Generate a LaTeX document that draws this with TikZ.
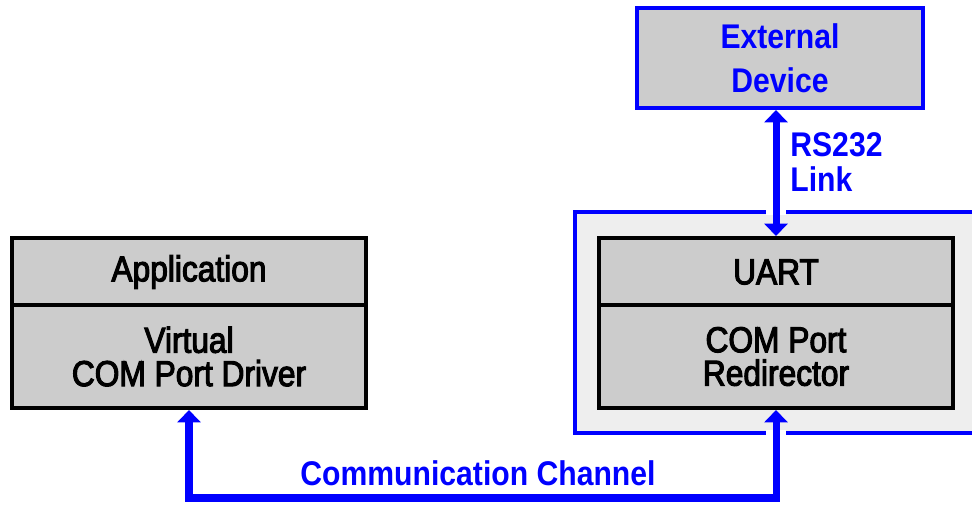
\documentclass[tikz,border=0pt]{standalone}
\usepackage{fontspec}
\setmainfont{Liberation Sans}[FakeStretch=0.88]
\newfontfamily\cellfont{Liberation Sans}[FakeStretch=0.88, FakeBold=3]
\usetikzlibrary{arrows.meta}
\definecolor{linkblue}{RGB}{0,0,255}
\definecolor{cellgray}{RGB}{204,204,204}
\definecolor{framegray}{RGB}{238,238,238}
\def\celltext{\cellfont\fontsize{20.5}{19}\selectfont}
\def\devtext{\fontsize{19.5}{25}\selectfont\bfseries}
\def\linktext{\fontsize{19.5}{20}\selectfont\bfseries}
\tikzset{
  cell/.style={draw=black, line width=2.3pt, fill=cellgray, inner sep=0pt,
    minimum width=7.08cm, align=center, font=\celltext},
  topcell/.style={cell, minimum height=1.36cm},
  lowcell/.style={cell, minimum height=2.06cm},
  devbox/.style={draw=linkblue, line width=2.3pt, fill=cellgray, inner sep=0pt,
    minimum width=5.72cm, minimum height=2cm, align=center,
    text=linkblue, font=\devtext},
  frame/.style={draw=linkblue, line width=2.3pt, fill=framegray, inner sep=0pt,
    minimum width=8.1cm, minimum height=4.42cm},
  link/.style={draw=linkblue, line width=4pt,
    {Triangle[width=13pt,length=7pt]}-{Triangle[width=13pt,length=7pt]}},
  gap/.style={draw=white, line width=11pt},
  linklabel/.style={inner sep=0pt, align=left, text=linkblue, font=\linktext}
}
\begin{document}
\begin{tikzpicture}[x=0.02cm, y=-0.02cm]
  \clip (0,0) rectangle (972,504);
  \node[frame] (frame) at (777.5,322.5) {};
  \node[devbox] (ext) at (780,58) {External\\Device};
  \node[topcell] (app) at (189,272) {Application};
  \node[lowcell] (vcpd) at (189,356.5) {Virtual\\COM Port Driver};
  \node[topcell] (uart) at (776,272) {UART};
  \node[lowcell] (redir) at (776,356.5) {COM Port\\Redirector};
  \coordinate (bus) at (480,498);
  \draw[gap] (uart.north |- frame.north) ++(0,-5) -- ++(0,10);
  \draw[gap] (redir.south |- frame.south) ++(0,-5) -- ++(0,10);
  \draw[link] (uart.north |- ext.south) -- (uart.north);
  \draw[link] (vcpd.south) |- (bus) -| (redir.south);
  \node[linklabel, anchor=north west] (rs) at (790,132) {RS232\\Link};
  \node[linklabel, anchor=base] (chan) at (478,485) {Communication Channel};
\end{tikzpicture}
\end{document}
